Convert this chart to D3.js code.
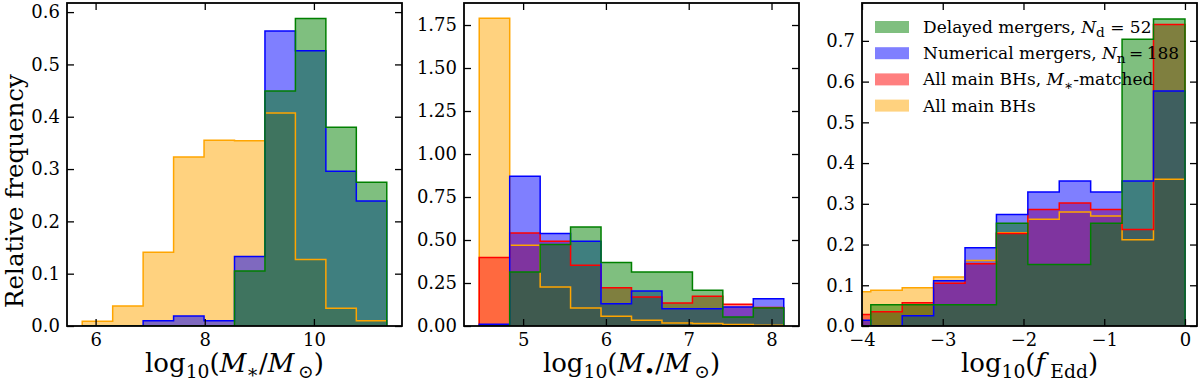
<!DOCTYPE html>
<html>
<head>
<meta charset="utf-8">
<script src="https://cdn.jsdelivr.net/npm/d3@7"></script>
<style>
  body { margin: 0; background: #fff; }
  text { font-family: 'DejaVu Serif', serif; fill: #000; }
</style>
</head>
<body>
<script>
var width = 1200,
    height = 381;

// ---- data ----
// panel 1: log10(M*/Msun)
var mstarEdges = [5.755, 6.313, 6.871, 7.429, 7.987, 8.545, 9.103, 9.661, 10.219, 10.777, 11.335];
var mstarAll = [0.009, 0.038, 0.141, 0.323, 0.355, 0.354, 0.407, 0.127, 0.034, 0.010];
var mstarNumerical = [0, 0, 0.010, 0.019, 0.010, 0.133, 0.564, 0.526, 0.296, 0.239];
var mstarDelayed = [0, 0, 0, 0, 0, 0.105, 0.449, 0.588, 0.380, 0.275];

// panel 2: log10(M_BH/Msun)
var mbhEdges = [4.470, 4.838, 5.206, 5.573, 5.941, 6.309, 6.677, 7.045, 7.412, 7.780, 8.148];
var mbhAll = [1.789, 0.470, 0.227, 0.105, 0.056, 0.033, 0.018, 0.014, 0.008, 0.004];
var mbhMatched = [0.398, 0.541, 0.493, 0.353, 0.223, 0.169, 0.134, 0.173, 0.126, 0.107];
var mbhNumerical = [0.010, 0.871, 0.538, 0.493, 0.130, 0.204, 0.101, 0.101, 0.111, 0.159];
var mbhDelayed = [0, 0.314, 0.474, 0.576, 0.369, 0.314, 0.314, 0.208, 0.052, 0.105];

// panel 3: log10(f_Edd)
var feddEdges = [-4.28, -3.891, -3.502, -3.113, -2.724, -2.335, -1.946, -1.557, -1.168, -0.779, -0.390, 0.0];
var feddAll = [0.084, 0.088, 0.094, 0.120, 0.161, 0.229, 0.262, 0.280, 0.270, 0.212, 0.360];
var feddMatched = [0.028, 0.035, 0.057, 0.105, 0.153, 0.227, 0.286, 0.302, 0.286, 0.237, 0.740];
var feddNumerical = [0.014, 0, 0.025, 0.111, 0.192, 0.274, 0.329, 0.356, 0.329, 0.356, 0.577];
var feddDelayed = [0, 0.052, 0.052, 0.052, 0.052, 0.252, 0.151, 0.151, 0.252, 0.704, 0.754];

var mstarTicks = [6, 8, 10];
var mbhTicks = [5, 6, 7, 8];
var feddTicks = [-4, -3, -2, -1, 0];
var yTicks1 = [0, 0.1, 0.2, 0.3, 0.4, 0.5, 0.6];
var yTicks2 = [0, 0.25, 0.5, 0.75, 1.0, 1.25, 1.5, 1.75];
var yTicks3 = [0, 0.1, 0.2, 0.3, 0.4, 0.5, 0.6, 0.7];

var colors = {
  all: '#ffa500',
  matched: '#ff0000',
  numerical: '#0000ff',
  delayed: '#008000'
};

var svg = d3.select('body')
    .append('svg')
    .attr('width', width)
    .attr('height', height);

var plotTop = 3, plotBottom = 326;
var tickFont = 18, labelFont = 26;

var panels = [
  {
    left: 67, right: 402,
    xDomain: [5.476, 11.614], yDomain: [0, 0.6174],
    xTicks: mstarTicks, yTicks: yTicks1, yFmt: d3.format('.1f'),
    edges: mstarEdges,
    series: [['all', mstarAll], ['numerical', mstarNumerical], ['delayed', mstarDelayed]],
    label: [{t: 'log'}, {t: '10', sub: true}, {t: '('}, {t: 'M', it: true}, {t: '\u2217', sub: true}, {t: '/'}, {t: 'M', it: true}, {t: '\u2009\u2299', sub: true}, {t: ')'}]
  },
  {
    left: 464, right: 799,
    xDomain: [4.286, 8.332], yDomain: [0, 1.878],
    xTicks: mbhTicks, yTicks: yTicks2, yFmt: d3.format('.2f'),
    edges: mbhEdges,
    series: [['all', mbhAll], ['matched', mbhMatched], ['numerical', mbhNumerical], ['delayed', mbhDelayed]],
    label: [{t: 'log'}, {t: '10', sub: true}, {t: '('}, {t: 'M', it: true}, {t: '\u2022', sub: true}, {t: '/'}, {t: 'M', it: true}, {t: '\u2009\u2299', sub: true}, {t: ')'}]
  },
  {
    left: 862, right: 1197,
    xDomain: [-4, 0.149], yDomain: [0, 0.793],
    xTicks: feddTicks, yTicks: yTicks3, yFmt: d3.format('.1f'),
    edges: feddEdges,
    series: [['all', feddAll], ['matched', feddMatched], ['numerical', feddNumerical], ['delayed', feddDelayed]],
    label: [{t: 'log'}, {t: '10', sub: true}, {t: '('}, {t: 'f', it: true}, {t: '\u2009'}, {t: 'Edd', sub: true}, {t: ')'}]
  }
];

// writes a list of pieces (italic / subscript) into a text element
function richText(textSel, parts, size) {
  var shifted = 0;
  parts.forEach(function(p) {
    var ts = textSel.append('tspan').text(p.t);
    if (p.it) ts.style('font-style', 'italic');
    var want = p.sub ? size * 0.22 : 0;
    if (want !== shifted) ts.attr('dy', want - shifted);
    shifted = want;
    if (p.sub) ts.attr('font-size', size * 0.72);
  });
}

function minusFmt(fmt) {
  return function(d) { return fmt(d).replace('-', '\u2212'); };
}

panels.forEach(function(p, i) {
  var x = d3.scaleLinear().domain(p.xDomain).range([p.left, p.right]);
  var y = d3.scaleLinear().domain(p.yDomain).range([plotBottom, plotTop]);
  var g = svg.append('g');

  g.append('clipPath').attr('id', 'clip' + i)
    .append('rect')
    .attr('x', p.left).attr('y', plotTop)
    .attr('width', p.right - p.left).attr('height', plotBottom - plotTop);

  var line = d3.line()
    .x(function(d) { return x(d[0]); })
    .y(function(d) { return y(d[1]); });

  function stepPoints(values) {
    var pts = [[p.edges[0], 0]];
    values.forEach(function(v, k) {
      pts.push([p.edges[k], v]);
      pts.push([p.edges[k + 1], v]);
    });
    pts.push([p.edges[values.length], 0]);
    return pts;
  }

  var plot = g.append('g').attr('clip-path', 'url(#clip' + i + ')');

  // fills first, outlines on top
  p.series.forEach(function(s) {
    plot.append('path')
      .attr('d', line(stepPoints(s[1])) + 'Z')
      .attr('fill', colors[s[0]])
      .attr('fill-opacity', 0.5)
      .attr('stroke', 'none');
  });
  p.series.forEach(function(s) {
    plot.append('path')
      .attr('d', line(stepPoints(s[1])))
      .attr('fill', 'none')
      .attr('stroke', colors[s[0]])
      .attr('stroke-width', 1.5);
  });

  // axes, ticks pointing inward on all four sides
  var xb = d3.axisBottom(x).tickValues(p.xTicks).tickSizeInner(-7).tickSizeOuter(0).tickPadding(7)
      .tickFormat(minusFmt(d3.format('d')));
  var xt = d3.axisTop(x).tickValues(p.xTicks).tickSizeInner(-7).tickSizeOuter(0).tickFormat('');
  var yl = d3.axisLeft(y).tickValues(p.yTicks).tickSizeInner(-7).tickSizeOuter(0).tickPadding(7)
      .tickFormat(p.yFmt);
  var yr = d3.axisRight(y).tickValues(p.yTicks).tickSizeInner(-7).tickSizeOuter(0).tickFormat('');

  [
    g.append('g').attr('transform', 'translate(0,' + plotBottom + ')').call(xb),
    g.append('g').attr('transform', 'translate(0,' + plotTop + ')').call(xt),
    g.append('g').attr('transform', 'translate(' + p.left + ',0)').call(yl),
    g.append('g').attr('transform', 'translate(' + p.right + ',0)').call(yr)
  ].forEach(function(a) {
    a.select('.domain').remove();
    a.selectAll('line').attr('stroke', '#000').attr('stroke-width', 1.3);
    a.selectAll('text')
      .style('font-family', "'DejaVu Serif', serif")
      .attr('font-size', tickFont);
  });

  g.append('rect')
    .attr('x', p.left).attr('y', plotTop)
    .attr('width', p.right - p.left).attr('height', plotBottom - plotTop)
    .attr('fill', 'none')
    .attr('stroke', '#000')
    .attr('stroke-width', 1.8);

  var xl = g.append('text')
    .attr('x', (p.left + p.right) / 2)
    .attr('y', 372)
    .attr('text-anchor', 'middle')
    .attr('font-size', labelFont);
  richText(xl, p.label, labelFont);
});

svg.append('text')
  .attr('transform', 'translate(23,191) rotate(-90)')
  .attr('text-anchor', 'middle')
  .attr('font-size', 24.5)
  .text('Relative frequency');

// legend (third panel)
var legendRows = [
  {key: 'delayed', parts: [{t: 'Delayed mergers, '}, {t: 'N', it: true}, {t: 'd', sub: true}, {t: ' = 52'}]},
  {key: 'numerical', parts: [{t: 'Numerical mergers, '}, {t: 'N', it: true}, {t: 'n', sub: true}, {t: '\u2009=\u2009188'}]},
  {key: 'matched', parts: [{t: 'All main BHs, '}, {t: 'M', it: true}, {t: '\u2217', sub: true}, {t: '-matched'}]},
  {key: 'all', parts: [{t: 'All main BHs'}]}
];

var legend = svg.append('g').attr('transform', 'translate(875,21)');
legendRows.forEach(function(r, k) {
  var row = legend.append('g').attr('transform', 'translate(0,' + (k * 26.2) + ')');
  row.append('rect')
    .attr('width', 34).attr('height', 12)
    .attr('fill', colors[r.key])
    .attr('fill-opacity', 0.5);
  var t = row.append('text')
    .attr('x', 48).attr('y', 12)
    .attr('font-size', 17);
  richText(t, r.parts, 19);
});
</script>
</body>
</html>
